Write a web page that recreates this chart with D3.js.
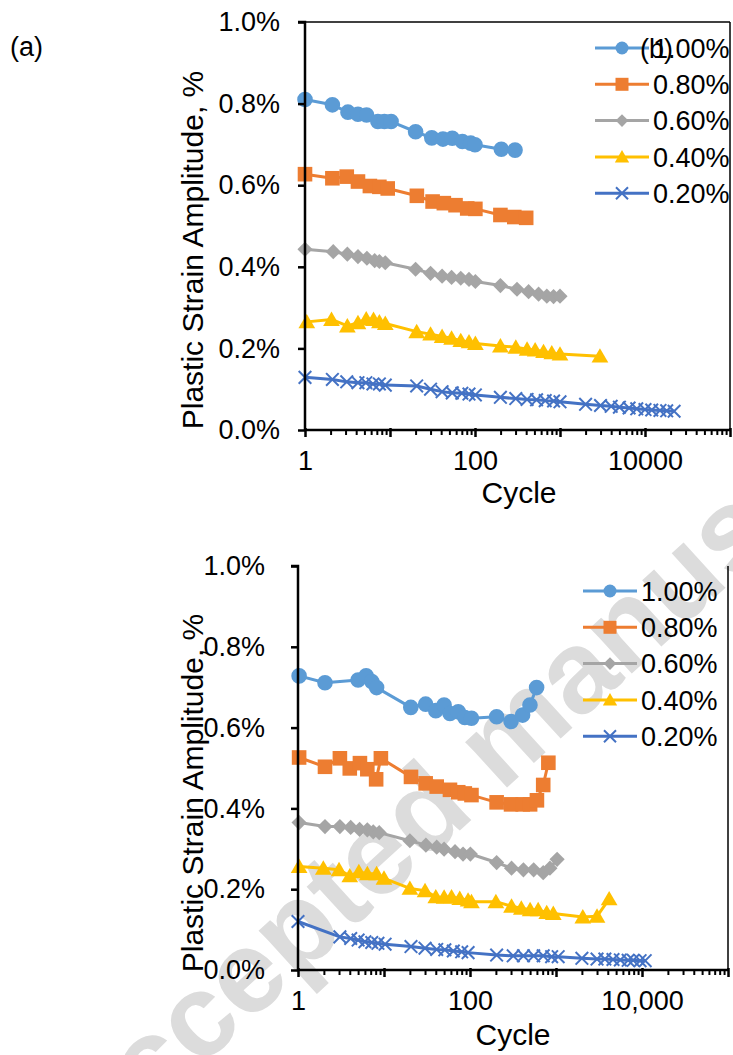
<!DOCTYPE html>
<html><head><meta charset="utf-8">
<script src="https://cdn.jsdelivr.net/npm/d3@7"></script>
<style>body{margin:0;background:#fff;} svg{display:block;font-family:"Liberation Sans",Arial,sans-serif;}</style>
</head><body><svg id="c" width="733" height="1055"></svg>
<script>
const seriesLabels = ["1.00%","0.80%","0.60%","0.40%","0.20%"];
const seriesColors = ["#5B9BD5","#ED7D31","#A5A5A5","#FFC000","#4472C4"];
const seriesMarkers = ["circle","square","diamond","triangle","cross"];
const xTickLabelsTop = ["1","100","10000"];
const xTickLabelsBottom = ["1","100","10,000"];
const xLabelValues = [1,100,10000];
const yTicks = [0,0.2,0.4,0.6,0.8,1.0];

// ---- top chart ----
const topCycles100 = [1,2.1,3.2,4.2,5.3,7.2,8.6,10.3,20,31,42,54,71,89,100,204,296];
const topAmp100    = [0.81,0.797,0.779,0.774,0.772,0.756,0.756,0.756,0.731,0.716,0.713,0.715,0.707,0.703,0.699,0.688,0.686];
const topCycles080 = [1,2.1,3.1,4.2,5.8,7.5,9.4,20.7,31.7,43,59,81,101,199,290,400];
const topAmp080    = [0.627,0.617,0.621,0.609,0.598,0.596,0.592,0.574,0.560,0.556,0.551,0.543,0.542,0.527,0.522,0.520];
const topCycles060 = [1,2.15,3.15,4.2,5.35,6.6,7.5,8.8,20,30,41,53,68,85,101,199,312,427,560,700,840,1000];
const topAmp060    = [0.443,0.437,0.431,0.425,0.421,0.415,0.413,0.410,0.394,0.384,0.377,0.374,0.372,0.369,0.364,0.354,0.345,0.339,0.333,0.328,0.327,0.328];
const topCycles040 = [1.05,2.05,3.15,4.2,5.25,6.4,7.5,8.8,20.6,30,41,53,68,85,101,199,302,410,510,640,800,1000,2950];
const topAmp040    = [0.265,0.271,0.255,0.263,0.272,0.271,0.265,0.261,0.241,0.235,0.229,0.225,0.219,0.216,0.212,0.206,0.203,0.198,0.196,0.192,0.189,0.186,0.181];
const topCycles020 = [1,2.1,3.1,4.2,5.2,6.3,7.5,8.8,20.6,30,41,54,70,85,101,199,302,410,530,670,840,1000,2000,3000,4000,5000,6500,8000,10000,12000,15000,18000,22000];
const topAmp020    = [0.129,0.124,0.118,0.116,0.116,0.113,0.113,0.110,0.108,0.100,0.094,0.091,0.090,0.088,0.086,0.080,0.077,0.075,0.074,0.072,0.071,0.069,0.063,0.060,0.058,0.056,0.054,0.052,0.050,0.049,0.048,0.047,0.046];

// ---- bottom chart ----
const botCycles100 = [1.03,2.06,5.0,6.2,7.2,8.2,20.5,30.5,40,50,58.5,73,87,104,204,300,409,498,595];
const botAmp100    = [0.728,0.711,0.718,0.728,0.714,0.699,0.650,0.658,0.642,0.656,0.635,0.639,0.625,0.623,0.627,0.615,0.631,0.656,0.699];
const botCycles080 = [1.03,2.06,3.07,4.0,5.25,6.4,8.1,9.2,20.6,30.5,41,58.5,73,87,104,204,300,410,500,600,710,815];
const botAmp080    = [0.526,0.503,0.524,0.499,0.512,0.497,0.472,0.524,0.478,0.462,0.454,0.446,0.440,0.437,0.433,0.415,0.410,0.410,0.410,0.420,0.458,0.513];
const botCycles060 = [1.03,2.06,3.07,4.1,5.2,6.4,7.5,8.8,20,30.7,41,50,67,83,101,204,304,418,550,710,850,1030];
const botAmp060    = [0.365,0.355,0.355,0.353,0.348,0.347,0.342,0.340,0.320,0.309,0.304,0.299,0.293,0.287,0.287,0.266,0.252,0.248,0.248,0.241,0.252,0.274];
const botCycles040 = [1.03,1.97,3.0,4.0,5.1,6.4,8.2,10,20,30,40,50,61,76,95,104,200,304,395,500,620,780,930,2050,3000,4150];
const botAmp040    = [0.256,0.252,0.248,0.233,0.243,0.238,0.238,0.227,0.202,0.196,0.181,0.180,0.181,0.177,0.173,0.169,0.169,0.158,0.153,0.149,0.149,0.142,0.140,0.131,0.133,0.176];
const botCycles020 = [1,3.07,4.1,5.0,6.0,7.2,8.5,10.3,20.6,30,41,51,64,80,95,204,318,418,550,710,890,1060,2000,3000,3700,4600,5600,6900,7900,9500,10900];
const botAmp020    = [0.120,0.082,0.078,0.074,0.070,0.068,0.066,0.064,0.058,0.054,0.051,0.050,0.047,0.045,0.043,0.037,0.035,0.035,0.035,0.035,0.033,0.033,0.029,0.027,0.027,0.026,0.025,0.024,0.024,0.023,0.023];

const svg = d3.select("#c");
const FS = 27;
const FT = 30;

// watermark (behind)
svg.append("text").attr("transform","translate(88,1170) rotate(-42.4)")
  .attr("font-size",117).attr("font-weight","bold").attr("fill","#dcdcdc")
  .text("Accepted manuscript");

function markerPath(type, s) {
  const p = d3.path();
  if (type === "circle") { p.moveTo(s,0); p.arc(0,0,s,0,2*Math.PI); }
  else if (type === "square") { p.rect(-s,-s,2*s,2*s); }
  else if (type === "diamond") { p.moveTo(0,-s*1.15); p.lineTo(s*1.15,0); p.lineTo(0,s*1.15); p.lineTo(-s*1.15,0); p.closePath(); }
  else if (type === "triangle") { p.moveTo(0,-s*1.05); p.lineTo(s*1.1,s*0.85); p.lineTo(-s*1.1,s*0.85); p.closePath(); }
  else { p.moveTo(-s,-s); p.lineTo(s,s); p.moveTo(s,-s); p.lineTo(-s,s); }
  return p.toString();
}
function drawMarker(g, type, color, x, y, s) {
  const el = g.append("path").attr("d", markerPath(type, s)).attr("transform",`translate(${x},${y})`);
  if (type === "cross") el.attr("fill","none").attr("stroke",color).attr("stroke-width",2);
  else el.attr("fill",color);
}

function drawChart(cfg) {
  const x = d3.scaleLog().domain([1,1e5]).range([cfg.x0, cfg.x1]);
  const y = d3.scaleLinear().domain([0,1.0]).range([cfg.y0, cfg.y1]);
  const g = svg.append("g");

  if (cfg.topBorder) g.append("line").attr("x1",cfg.x0).attr("x2",cfg.x1).attr("y1",cfg.y1).attr("y2",cfg.y1).attr("stroke","#000").attr("stroke-width",1.5);
  g.append("line").attr("x1",cfg.x1).attr("x2",cfg.x1).attr("y1",cfg.y1).attr("y2",cfg.y0).attr("stroke","#000").attr("stroke-width",1.5);

  cfg.series.forEach((s, i) => {
    const pts = s.cycles.map((c, k) => [c, s.amps[k]]);
    g.append("path").datum(pts).attr("fill","none").attr("stroke",seriesColors[i]).attr("stroke-width",3)
      .attr("stroke-linejoin","round")
      .attr("d", d3.line().x(d => x(d[0])).y(d => y(d[1])));
    const ms = [7.8,7.3,6.6,7.6,6.3][i];
    pts.forEach(d => drawMarker(g, seriesMarkers[i], seriesColors[i], x(d[0]), y(d[1]), ms));
  });

  const yAxis = d3.axisLeft(y).tickValues(yTicks).tickSize(7).tickPadding(cfg.yPad)
    .tickFormat(d => d3.format(".1f")(d) + "%");
  const ya = g.append("g").attr("transform",`translate(${cfg.x0},0)`).call(yAxis);
  ya.select(".domain").attr("stroke-width",2.5).attr("d",`M-7,${cfg.y1}H0V${cfg.y0}`);
  ya.selectAll(".tick line").attr("stroke-width",2.5);
  ya.selectAll("text").attr("font-size",FS).attr("font-family","Liberation Sans, Arial").attr("fill","#000");

  const allTicks = x.ticks();
  const majors = allTicks.filter(v => Math.abs(Math.log10(v) - Math.round(Math.log10(v))) < 1e-9);
  const minors = allTicks.filter(v => !majors.includes(v));
  const xMinor = d3.axisBottom(x).tickValues(minors).tickSize(5).tickFormat("");
  const xm = g.append("g").attr("transform",`translate(0,${cfg.y0})`).call(xMinor);
  xm.select(".domain").remove();
  xm.selectAll(".tick line").attr("stroke-width",2);
  const xMajor = d3.axisBottom(x).tickValues(majors).tickSize(7).tickPadding(cfg.xPad)
    .tickFormat(v => { const j = xLabelValues.indexOf(v); return j >= 0 ? cfg.xLabels[j] : ""; });
  const xa = g.append("g").attr("transform",`translate(0,${cfg.y0})`).call(xMajor);
  xa.select(".domain").attr("stroke-width",2.5).attr("d",`M${cfg.x0},0H${cfg.x1}`);
  xa.selectAll(".tick line").attr("stroke-width",2.5).attr("y1",-2);
  xa.selectAll("text").attr("font-size",FS).attr("font-family","Liberation Sans, Arial").attr("fill","#000");

  g.append("text").attr("x",cfg.xTitleX).attr("y",cfg.xTitleY).attr("text-anchor","middle").attr("font-size",FT).text("Cycle");
  g.append("text").attr("transform",`translate(${cfg.yTitleX},${cfg.yTitleY}) rotate(-90)`).attr("text-anchor","middle")
    .attr("font-size",FT).text("Plastic Strain Amplitude, %");

  seriesLabels.forEach((lab, i) => {
    const ly = cfg.legY + i * 36.3;
    g.append("line").attr("x1",cfg.legX).attr("x2",cfg.legX + 54).attr("y1",ly).attr("y2",ly)
      .attr("stroke",seriesColors[i]).attr("stroke-width",3);
    drawMarker(g, seriesMarkers[i], seriesColors[i], cfg.legX + 27, ly, [6.5,6.5,5.5,6.5,6][i]);
    g.append("text").attr("x",cfg.legX + 58).attr("y",ly).attr("dy","0.36em").attr("font-size",FS).text(lab);
  });
}

drawChart({
  x0:305, x1:730, y0:430, y1:22, yPad:18, xPad:14, xLabels:xTickLabelsTop, topBorder:true,
  xTitleX:519, xTitleY:503, yTitleX:203, yTitleY:250, legX:595, legY:48,
  series:[
    {cycles:topCycles100, amps:topAmp100},
    {cycles:topCycles080, amps:topAmp080},
    {cycles:topCycles060, amps:topAmp060},
    {cycles:topCycles040, amps:topAmp040},
    {cycles:topCycles020, amps:topAmp020}
  ]
});
drawChart({
  x0:298, x1:728, y0:970, y1:566, yPad:26, xPad:14, xLabels:xTickLabelsBottom, topBorder:false,
  xTitleX:513, xTitleY:1045, yTitleX:203, yTitleY:793, legX:583, legY:591,
  series:[
    {cycles:botCycles100, amps:botAmp100},
    {cycles:botCycles080, amps:botAmp080},
    {cycles:botCycles060, amps:botAmp060},
    {cycles:botCycles040, amps:botAmp040},
    {cycles:botCycles020, amps:botAmp020}
  ]
});

svg.append("text").attr("x",10).attr("y",56).attr("font-size",FS).text("(a)");
svg.append("text").attr("x",640).attr("y",58).attr("font-size",FS).text("(b)");
</script></body></html>
